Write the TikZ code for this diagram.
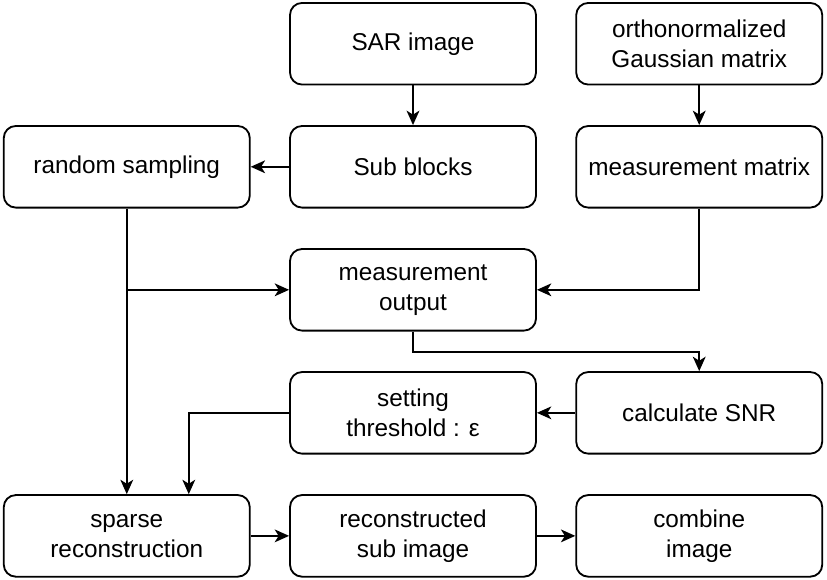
\documentclass[tikz,border=0pt]{standalone}
\usepackage{fontspec}
\setmainfont{Liberation Sans}
\usetikzlibrary{arrows.meta,positioning,calc}

\begin{document}
\begin{tikzpicture}[block/.style={draw, rectangle, rounded corners=0.3cm, line width=1.3pt, minimum width=6.15cm, minimum height=2.04cm, inner sep=2pt, align=center, font=\fontsize{17.3}{21.3}\selectfont},
    link/.style={line width=1.3pt, -{Stealth[length=0.36cm, width=0.32cm, inset=0.1cm]}},
    node distance=0.99cm and 0.96cm]
    \useasboundingbox (0,0) rectangle (20.675,-14.5);
    \node[block] (sar) at (10.325,-1.094) {SAR image};
    \node[block, right=of sar] (gauss) {orthonormalized\\Gaussian matrix};
    \node[block, below=of sar] (sub) {Sub blocks};
    \node[block, left=of sub] (rs) {random sampling};
    \node[block, below=of gauss] (mm) {measurement matrix};
    \node[block, below=of sub] (mo) {measurement\\output};
    \node[block, below=of mo] (th) {setting\\threshold : ε};
    \node[block, right=of th] (snr) {calculate SNR};
    \node[block, below=of th] (rec) {reconstructed\\sub image};
    \node[block, left=of rec] (sparse) {sparse\\reconstruction};
    \node[block, right=of rec] (comb) {combine\\image};
    \coordinate (tap) at (rs.south |- mo.west);
    \coordinate (thin) at ($(sparse.north)+(1.55,0)$);
    \draw[link] (sar) -- (sub);
    \draw[link] (gauss) -- (mm);
    \draw[link] (sub) -- (rs);
    \draw[link] (rs) -- (sparse);
    \draw[link] (tap) -- (mo.west);
    \draw[link] (mm.south) |- (mo.east);
    \draw[link] (mo.south) -- ++(0,-0.51) -| (snr.north);
    \draw[link] (snr) -- (th);
    \draw[link] (th.west) -| (thin);
    \draw[link] (sparse) -- (rec);
    \draw[link] (rec) -- (comb);
\end{tikzpicture}
\end{document}
